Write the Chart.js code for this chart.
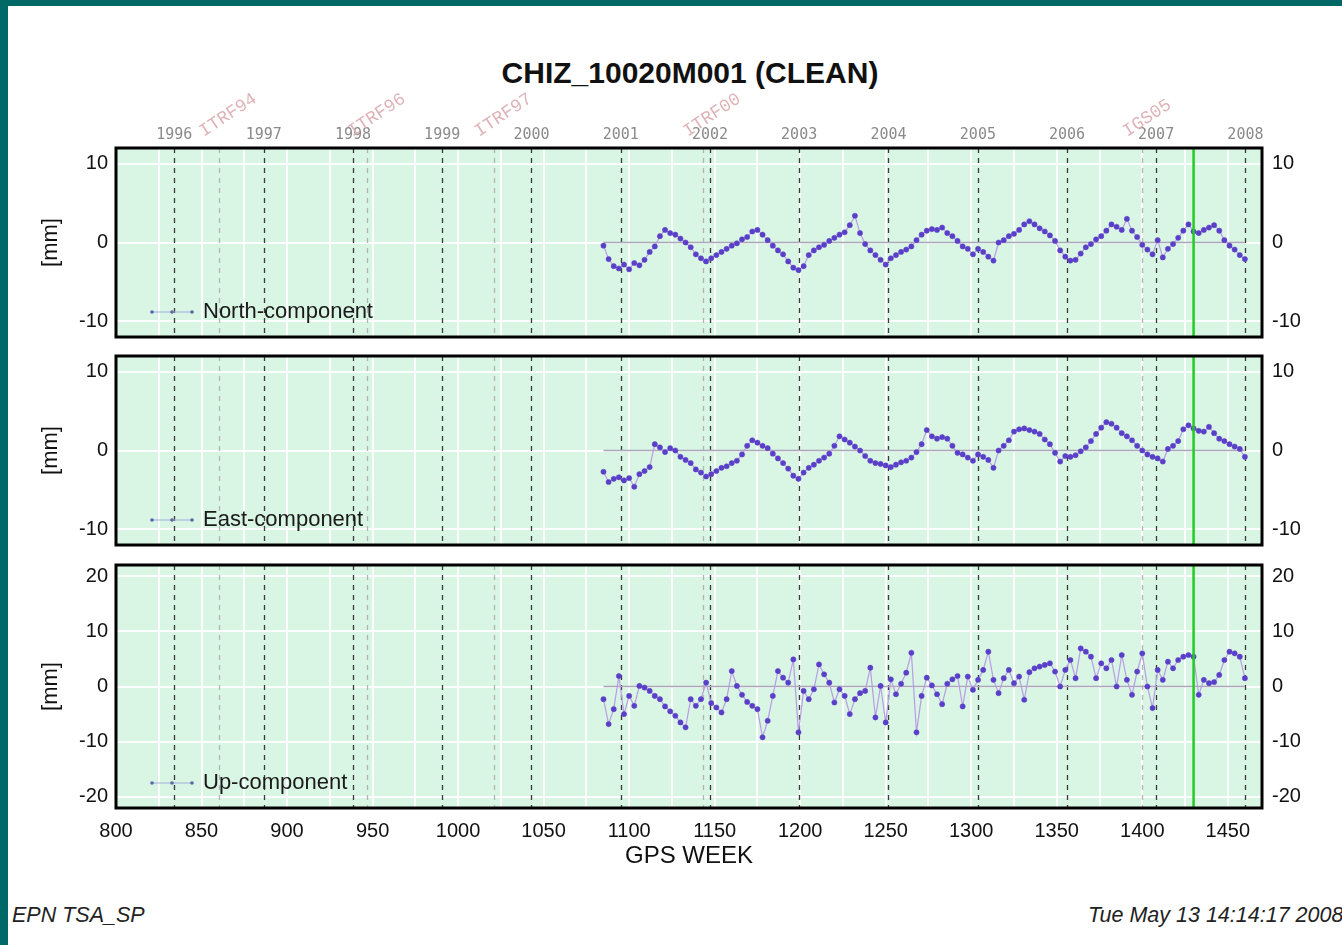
<!DOCTYPE html>
<html>
<head>
<meta charset="utf-8">
<script src="https://cdn.jsdelivr.net/npm/chart.js@4.4.0/dist/chart.umd.min.js"></script>
<style>
  body { margin: 0; width: 1342px; height: 945px; background: #fff; position: relative; overflow: hidden;
         font-family: "Liberation Sans", Arial, sans-serif; }
  .frame { position: absolute; background: #016868; }
  .pane { position: absolute; left: 34px; }
  #title { position: absolute; left: 440px; width: 500px; top: 56px; text-align: center;
           font-weight: bold; font-size: 30px; line-height: 34px; color: #111; }
  .foot { position: absolute; top: 902px; font-style: italic; font-size: 21.5px; line-height: 26px; color: #222; white-space: nowrap; }
</style>
</head>
<body>
<div class="frame" style="left:0;top:0;width:1342px;height:6px"></div>
<div class="frame" style="left:0;top:0;width:8px;height:945px"></div>
<div id="title">CHIZ_10020M001 (CLEAN)</div>
<canvas id="chartNorth" class="pane" width="1308" height="273" style="top:80px"></canvas>
<canvas id="chartEast" class="pane" width="1308" height="221" style="top:340px"></canvas>
<canvas id="chartUp" class="pane" width="1308" height="326" style="top:549px"></canvas>
<div class="foot" style="left:1088px">Tue May 13 14:14:17 2008</div>
<div class="foot" style="left:12px">EPN TSA_SP</div>

<script>
// GPS weeks of the solutions (every third week)
const weeks = [
  1085,1088,1091,1094,1097,1100,1103,1106,1109,1112,
  1115,1118,1121,1124,1127,1130,1133,1136,1139,1142,
  1145,1148,1151,1154,1157,1160,1163,1166,1169,1172,
  1175,1178,1181,1184,1187,1190,1193,1196,1199,1202,
  1205,1208,1211,1214,1217,1220,1223,1226,1229,1232,
  1235,1238,1241,1244,1247,1250,1253,1256,1259,1262,
  1265,1268,1271,1274,1277,1280,1283,1286,1289,1292,
  1295,1298,1301,1304,1307,1310,1313,1316,1319,1322,
  1325,1328,1331,1334,1337,1340,1343,1346,1349,1352,
  1355,1358,1361,1364,1367,1370,1373,1376,1379,1382,
  1385,1388,1391,1394,1397,1400,1403,1406,1409,1412,
  1415,1418,1421,1424,1427,1430,1433,1436,1439,1442,
  1445,1448,1451,1454,1457,1460
];

const north = [
  -0.4,-2.1,-3.0,-3.3,-2.8,-3.4,-2.6,-2.9,-2.2,-1.2,
  -0.5,0.8,1.6,1.2,1.0,0.5,0.0,-0.6,-1.5,-2.0,
  -2.4,-2.0,-1.6,-1.2,-0.8,-0.4,-0.1,0.4,0.7,1.4,
  1.6,1.0,0.3,-0.4,-1.0,-1.5,-2.4,-3.2,-3.5,-3.0,
  -1.6,-1.0,-0.6,-0.3,0.2,0.6,1.0,1.3,2.2,3.4,
  1.2,-0.2,-1.0,-1.6,-2.2,-2.8,-2.0,-1.6,-1.2,-0.9,
  -0.5,0.3,1.0,1.5,1.7,1.6,1.9,1.2,0.8,0.2,
  -0.5,-0.8,-1.5,-0.8,-1.2,-1.8,-2.3,0.0,0.3,0.8,
  1.1,1.6,2.3,2.7,2.3,1.8,1.4,0.9,0.2,-1.0,
  -1.8,-2.3,-2.2,-1.4,-0.6,-0.2,0.4,0.8,1.5,2.3,
  2.0,1.6,3.0,1.5,0.7,-0.3,-0.9,-1.5,0.3,-1.9,
  -0.8,-0.2,0.6,1.5,2.3,1.4,1.2,1.6,1.9,2.2,
  1.5,0.3,-0.4,-0.9,-1.6,-2.1
];

const east = [
  -2.7,-4.0,-3.6,-3.4,-3.8,-3.5,-4.6,-3.0,-2.6,-2.1,
  0.8,0.4,-0.2,0.3,0.0,-0.8,-1.2,-1.6,-2.4,-2.8,
  -3.3,-3.0,-2.6,-2.2,-2.0,-1.6,-1.3,-0.5,0.6,1.3,
  1.0,0.6,0.3,-0.4,-1.0,-1.6,-2.3,-3.2,-3.6,-2.8,
  -2.2,-1.8,-1.3,-0.9,-0.4,0.6,1.8,1.4,1.0,0.5,
  0.0,-0.7,-1.3,-1.6,-1.7,-1.9,-2.1,-1.8,-1.5,-1.3,
  -0.9,-0.2,0.8,2.6,1.8,1.5,1.7,1.5,0.6,-0.3,
  -0.5,-0.9,-1.3,-0.5,-0.8,-1.2,-2.2,0.0,0.6,1.3,
  2.4,2.7,2.8,2.6,2.4,2.1,1.4,0.8,-0.3,-1.4,
  -0.7,-0.8,-0.6,-0.1,0.4,1.2,2.1,2.9,3.6,3.4,
  2.9,2.2,1.8,1.3,0.6,0.0,-0.5,-0.8,-1.0,-1.4,
  0.2,0.6,1.2,2.7,3.2,2.8,2.5,2.4,3.0,2.2,
  1.5,1.2,0.8,0.5,0.2,-0.8
];

const up = [
  -2.3,-6.8,-4.1,1.9,-5.0,-1.7,-3.5,0.1,-0.2,-0.8,
  -1.7,-2.3,-3.6,-4.5,-5.3,-6.5,-7.4,-2.3,-3.5,-2.3,
  0.7,-3.0,-3.8,-4.7,-2.3,2.8,0.1,-1.5,-2.8,-3.5,
  -4.1,-9.2,-6.2,-1.7,2.8,1.6,0.7,4.9,-8.3,-0.8,
  -2.3,-0.5,4.0,2.2,0.7,-2.9,-0.5,-1.7,-5.0,-2.3,
  -1.2,-0.8,3.4,-5.6,0.1,-6.5,1.3,-1.4,0.5,2.5,
  6.1,-8.3,-1.7,1.6,0.2,-1.4,-3.2,0.5,1.3,1.9,
  -3.6,1.8,-0.6,1.2,3.0,6.3,1.2,-1.2,1.5,3.0,
  0.6,1.8,-2.4,2.6,3.3,3.6,3.9,4.2,2.7,0.0,
  3.0,4.8,1.5,6.9,6.3,5.4,1.5,4.2,3.3,4.8,
  0.0,5.7,1.2,-1.5,2.7,6.0,0.0,-3.9,3.0,1.2,
  4.5,3.3,4.8,5.4,5.7,5.4,-1.5,1.2,0.6,0.8,
  2.1,4.8,6.3,6.0,5.4,1.5
];

// calendar years and reference-frame changes, in GPS weeks
const yearWeeks = [834.1, 886.4, 938.6, 990.7, 1042.9, 1095.1, 1147.3, 1199.4, 1251.6, 1303.9, 1356.0, 1408.1, 1460.3];
const yearLabels = ['1996','1997','1998','1999','2000','2001','2002','2003','2004','2005','2006','2007','2008'];
const frameWeeks = [860, 947, 1021, 1143, 1400];
const frameLabels = ['ITRF94', 'ITRF96', 'ITRF97', 'ITRF00', 'IGS05'];
const eventWeek = 1430;

const horizTicks = [-10, 0, 10];
const upTicks = [-20, -10, 0, 10, 20];

const FONT = '"Liberation Sans", Arial, sans-serif';
const xMin = 800, xMax = 1470;

function noPadding(s) {
  s.paddingTop = 0; s.paddingBottom = 0; s.paddingLeft = 0; s.paddingRight = 0;
}

const panelDeco = {
  id: 'panelDeco',
  beforeDraw(chart) {
    const a = chart.chartArea, c = chart.ctx;
    c.save();
    c.fillStyle = '#d9f5e3';
    c.fillRect(a.left, a.top, a.right - a.left, a.bottom - a.top);
    c.restore();
  },
  beforeDatasetsDraw(chart) {
    const a = chart.chartArea, c = chart.ctx, x = chart.scales.x;
    c.save();
    c.lineWidth = 1.3;
    c.setLineDash([5, 5]);
    c.strokeStyle = '#b4b4b4';
    frameWeeks.forEach(w => {
      const px = Math.round(x.getPixelForValue(w)) + 0.5;
      c.beginPath(); c.moveTo(px, a.top); c.lineTo(px, a.bottom); c.stroke();
    });
    c.strokeStyle = '#3a3a3a';
    yearWeeks.forEach(w => {
      const px = Math.round(x.getPixelForValue(w)) + 0.5;
      c.beginPath(); c.moveTo(px, a.top); c.lineTo(px, a.bottom); c.stroke();
    });
    c.restore();
  },
  afterDatasetsDraw(chart, args, opts) {
    const a = chart.chartArea, c = chart.ctx, x = chart.scales.x;
    c.save();
    // event marker
    const ex = x.getPixelForValue(eventWeek);
    c.strokeStyle = '#22cc22';
    c.lineWidth = 2.5;
    c.beginPath(); c.moveTo(ex, a.top); c.lineTo(ex, a.bottom); c.stroke();

    // legend inside the panel
    const ly = a.bottom - 25, lx = a.left + 36;
    c.strokeStyle = '#9fb0dc';
    c.lineWidth = 1.2;
    c.beginPath(); c.moveTo(lx, ly); c.lineTo(lx + 40, ly); c.stroke();
    c.fillStyle = '#5c66a8';
    [0, 20, 40].forEach(d => { c.beginPath(); c.arc(lx + d, ly, 1.8, 0, Math.PI * 2); c.fill(); });
    c.fillStyle = '#1a1a1a';
    c.font = '22px ' + FONT;
    c.textBaseline = 'middle';
    c.fillText(opts.name, lx + 51, ly);

    // panel frame
    c.strokeStyle = '#000';
    c.lineWidth = 3;
    c.strokeRect(a.left, a.top, a.right - a.left, a.bottom - a.top);
    c.restore();
  },
  afterDraw(chart, args, opts) {
    if (!opts.frames) return;
    const c = chart.ctx, x = chart.scales.x, a = chart.chartArea;
    c.save();
    c.fillStyle = '#dfb3b7';
    c.font = '18px "Liberation Mono", monospace';
    c.textBaseline = 'alphabetic';
    frameWeeks.forEach((w, i) => {
      c.save();
      c.translate(x.getPixelForValue(w) - 15, a.top - 11);
      c.rotate(-33.5 * Math.PI / 180);
      c.fillText(frameLabels[i], 0, 0);
      c.restore();
    });
    c.restore();
  }
};

function buildPanel(id, values, name, yMin, yMax, yTicks, isTop, isBottom) {
  const sideAxis = (pos, width, pad) => ({
    type: 'linear', min: yMin, max: yMax, position: pos,
    afterBuildTicks: s => { s.ticks = yTicks.map(v => ({ value: v })); },
    ticks: { font: { family: FONT, size: 20 }, color: '#111', padding: pad },
    grid: { display: pos === 'left', color: 'rgba(255,255,255,0.9)', lineWidth: 2, drawTicks: false },
    border: { display: false },
    title: { display: pos === 'left', text: '[mm]', font: { family: FONT, size: 22 }, color: '#111' },
    afterFit: s => { s.width = width; noPadding(s); }
  });

  const scales = {
    x: {
      type: 'linear', min: xMin, max: xMax, position: 'bottom',
      ticks: {
        display: isBottom, stepSize: 25, includeBounds: false, autoSkip: false, maxRotation: 0, padding: 11,
        font: { family: FONT, size: 20 }, color: '#111',
        callback: v => (v % 50 === 0 ? String(v) : '')
      },
      grid: { color: 'rgba(255,255,255,0.9)', lineWidth: 2, drawTicks: false },
      border: { display: false },
      title: { display: isBottom, text: 'GPS WEEK', font: { family: FONT, size: 24 }, color: '#111', padding: { top: 0, bottom: 4 } },
      afterFit: s => { s.height = isBottom ? 67 : 16; noPadding(s); }
    },
    y: sideAxis('left', 82, 8),
    yr: sideAxis('right', 80, 10)
  };

  if (isTop) {
    scales.xTop = {
      type: 'linear', min: xMin, max: xMax, position: 'top',
      afterBuildTicks: s => { s.ticks = yearWeeks.map(v => ({ value: v })); },
      ticks: {
        autoSkip: false, maxRotation: 0, padding: 4,
        font: { family: '"DejaVu Sans Mono", monospace', size: 15 }, color: '#8a8a8a',
        callback: (v, i) => yearLabels[i]
      },
      grid: { display: false, drawTicks: false },
      border: { display: false },
      afterFit: s => { s.height = 68; noPadding(s); }
    };
  }

  return new Chart(document.getElementById(id), {
    type: 'line',
    data: {
      datasets: [{
        label: name,
        data: weeks.map((w, i) => ({ x: w, y: values[i] })),
        borderColor: '#b99be6',
        borderWidth: 1.2,
        pointRadius: 2.6,
        pointBackgroundColor: '#5a3fc8',
        pointBorderColor: '#5a3fc8',
        pointBorderWidth: 0.5,
        tension: 0
      }, {
        label: 'zero',
        data: [{ x: weeks[0], y: 0 }, { x: weeks[weeks.length - 1], y: 0 }],
        borderColor: '#a8a8b8',
        borderWidth: 1.5,
        pointRadius: 0
      }]
    },
    options: {
      responsive: false,
      devicePixelRatio: 1,
      animation: false,
      events: [],
      layout: { padding: { top: isTop ? 0 : 16, left: 0, right: 0, bottom: 0 } },
      scales: scales,
      plugins: {
        legend: { display: false },
        tooltip: { enabled: false },
        panelDeco: { name: name, frames: isTop }
      }
    },
    plugins: [panelDeco]
  });
}

buildPanel('chartNorth', north, 'North-component', -12, 12, horizTicks, true, false);
buildPanel('chartEast', east, 'East-component', -12, 12, horizTicks, false, false);
buildPanel('chartUp', up, 'Up-component', -22, 22, upTicks, false, true);
</script>
</body>
</html>
